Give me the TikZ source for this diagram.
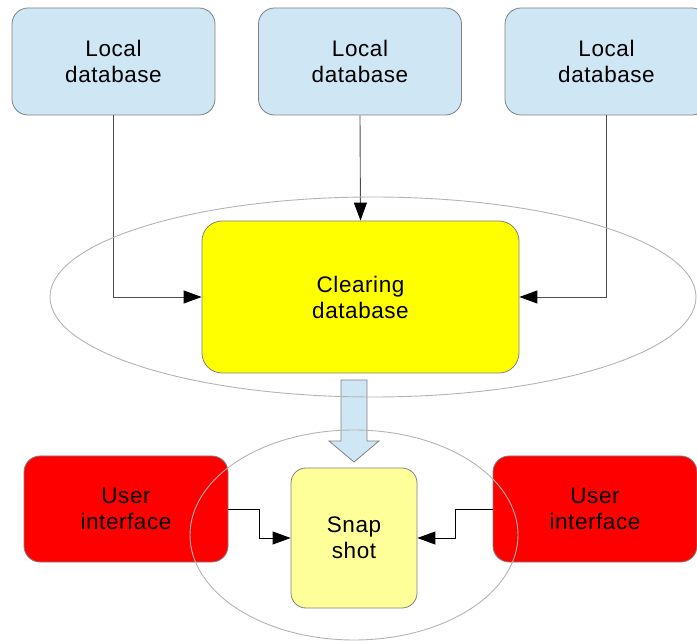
\documentclass[tikz,border=0pt]{standalone}
\usepackage{fontspec}
\setmainfont{Liberation Sans}[LetterSpace=2.5]
\usetikzlibrary{arrows.meta,shapes.geometric}
\definecolor{dbblue}{HTML}{CFE7F5}
\definecolor{clyellow}{HTML}{FFFF00}
\definecolor{snapyellow}{HTML}{FFFF99}
\definecolor{uired}{HTML}{FF0000}
\definecolor{boxborder}{HTML}{808080}
\definecolor{ellborder}{HTML}{B3B3B3}
\definecolor{conn}{HTML}{4D4D4D}
\begin{document}
\begin{tikzpicture}[x=1pt,y=-1pt,
  box/.style={draw=boxborder, line width=0.8pt, rounded corners=16pt, align=center,
    font=\fontsize{22.5}{26}\selectfont, inner sep=0pt},
  dbbox/.style={box, fill=dbblue, minimum width=203pt, minimum height=107pt},
  uibox/.style={box, fill=uired, minimum width=204pt, minimum height=106pt},
  ell/.style={draw=ellborder, line width=0.9pt},
  conline/.style={draw=conn, line width=0.9pt},
  arr/.style={-{Triangle[length=18pt,width=13pt,color=black]}}
]
\useasboundingbox (0,0) rectangle (697,644);

% boxes
\node[dbbox] (ld1) at (113.5,61.5) {Local\\database};
\node[dbbox] (ld2) at (360,61.5) {Local\\database};
\node[dbbox] (ld3) at (606.5,61.5) {Local\\database};
\node[box, fill=clyellow, rounded corners=20pt, minimum width=317pt, minimum height=152pt] (clear) at (360.5,297) {Clearing\\database};
\node[box, fill=snapyellow, rounded corners=15pt, minimum width=126pt, minimum height=140pt] (snap) at (354,538) {Snap\\shot};
\node[uibox] (ui1) at (126,509) {User\\interface};
\node[uibox] (ui2) at (595,509) {User\\interface};

% block arrow
\draw[draw=boxborder, fill=dbblue, line width=0.8pt]
  (341,380) -- (367,380) -- (367,441) -- (379,441) -- (354,462) -- (329,441) -- (341,441) -- cycle;

% connectors
\draw[conline, arr] (ld1.south) |- (clear.west);
\draw[conline, arr] (ld2.south) -- (clear.north);
\draw[conline, arr] (ld3.south) |- (clear.east);
\draw[line width=0.9pt, arr] (ui1.east) -- ++(31,0) |- (snap.west);
\draw[line width=0.9pt, arr] (ui2.west) -- ++(-37,0) |- (snap.east);

% ellipses
\node[ell, ellipse, minimum width=646pt, minimum height=200pt, inner sep=0pt] (bigell) at (373,297) {};
\node[ell, ellipse, minimum width=328pt, minimum height=210pt, inner sep=0pt] (smallell) at (354,535) {};
\end{tikzpicture}
\end{document}
